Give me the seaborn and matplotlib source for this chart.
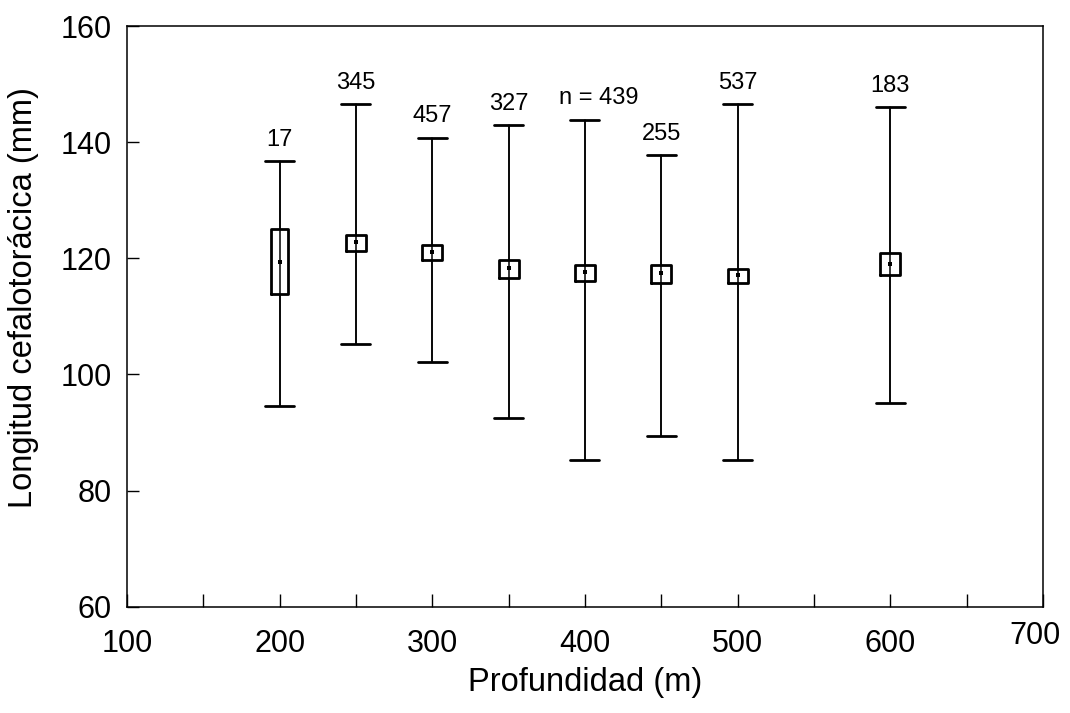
import numpy as np
import pandas as pd
import matplotlib
matplotlib.use("Agg")
import matplotlib.pyplot as plt
import matplotlib.transforms as mtransforms
import seaborn as sns

# ---- data ----
depth = [200, 250, 300, 350, 400, 450, 500, 600]
mean_len = [119.3, 122.8, 121.1, 118.3, 117.6, 117.4, 117.2, 119.0]
box_low = [113.8, 121.3, 119.7, 116.6, 116.1, 115.8, 115.7, 117.2]
box_high = [125.0, 124.0, 122.3, 119.7, 118.8, 118.8, 118.2, 120.9]
min_len = [94.6, 105.2, 102.1, 92.5, 85.2, 89.4, 85.2, 95.1]
max_len = [136.7, 146.6, 140.8, 142.9, 143.9, 137.8, 146.6, 146.0]
n_labels = ["17", "345", "457", "327", "n = 439", "255", "537", "183"]

df = pd.DataFrame({"depth": depth, "mean": mean_len, "lo": box_low, "hi": box_high,
                   "min": min_len, "max": max_len, "n": n_labels})

sns.set_theme(style="ticks")
plt.rcParams["font.family"] = ["Liberation Sans", "DejaVu Sans"]

fig = plt.figure(figsize=(10.7, 7.13), dpi=100)
ax = fig.add_axes([0.1187, 0.149, 0.856, 0.8145])

# whisker line through the whole range
ax.vlines(df["depth"], df["min"], df["max"], color="black", linewidth=1.1, zorder=2)

stats = []
for _, r in df.iterrows():
    stats.append(dict(med=r["mean"], q1=r["lo"], q3=r["hi"],
                      whislo=r["min"], whishi=r["max"], fliers=[]))
widths = [11.5] + [13.0] * (len(depth) - 1)
ax.bxp(stats, positions=depth, widths=widths, capwidths=19,
       showfliers=False, manage_ticks=False,
       boxprops=dict(color="black", linewidth=2.0),
       whiskerprops=dict(color="black", linewidth=1.1),
       capprops=dict(color="black", linewidth=2.0),
       medianprops=dict(linewidth=0))

sns.scatterplot(data=df, x="depth", y="mean", marker="s", s=9, color="black",
                edgecolor="black", linewidth=0, ax=ax, zorder=4, legend=False)

for _, r in df.iterrows():
    dx = 10 if r["n"].startswith("n") else 0
    ax.annotate(r["n"], xy=(r["depth"], r["max"]), xytext=(dx, 11),
                textcoords="offset points", ha="center", va="baseline",
                fontsize=17, color="black")

ax.set_xlim(100, 700)
ax.set_ylim(60, 160)
ax.set_xticks(np.arange(100, 701, 100))
ax.set_xticks(np.arange(150, 700, 100), minor=True)
ax.set_yticks(np.arange(60, 161, 20))
ax.tick_params(axis="x", which="both", direction="in", length=9.5, width=1.0,
               bottom=True, top=False, pad=16, labelsize=22, colors="black")
ax.tick_params(axis="y", which="both", direction="in", length=8.5, width=1.0,
               left=True, right=False, pad=11, labelsize=22, colors="black")
for s in ax.spines.values():
    s.set_visible(True)
    s.set_linewidth(1.1)
    s.set_color("black")

# the last x tick label sits a little higher and to the left in the original
last = ax.get_xticklabels()[-1]
last.set_transform(last.get_transform() +
                   mtransforms.ScaledTranslation(-8 / 100, 8 / 100, fig.dpi_scale_trans))

ax.set_xlabel("Profundidad (m)", fontsize=23.5, color="black", labelpad=6)
ax.set_ylabel("Longitud cefalotorácica (mm)", fontsize=23.5, color="black")
ax.yaxis.set_label_coords(-0.096, 0.532)
ax.set_facecolor("white")
fig.patch.set_facecolor("white")

fig.savefig("out.png", dpi=100, facecolor="white")
